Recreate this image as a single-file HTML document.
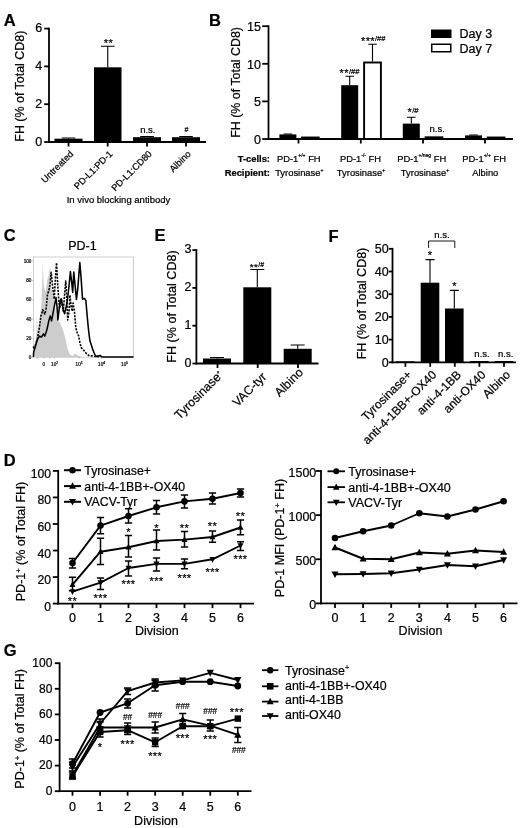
<!DOCTYPE html>
<html><head><meta charset="utf-8"><title>Figure</title>
<style>
html,body{margin:0;padding:0;background:#fff;}
body{width:520px;height:828px;overflow:hidden;}
svg{display:block;font-family:'Liberation Sans', sans-serif;filter:blur(0.35px);}
svg text{stroke:#000;stroke-width:0.22px;}
</style></head>
<body>
<svg width="520" height="828" viewBox="0 0 520 828" font-family="'Liberation Sans', sans-serif">
<rect width="520" height="828" fill="#fff"/>
<text x="3.8" y="26.3" font-size="16.5" font-weight="bold">A</text>
<line x1="49" y1="27.70000000000001" x2="49" y2="142.9" stroke="#000" stroke-width="1.8"/>
<line x1="44.2" y1="142.0" x2="49" y2="142.0" stroke="#000" stroke-width="1.8"/>
<text x="42.2" y="145.6" font-size="12.5" text-anchor="end">0</text>
<line x1="44.2" y1="104.2" x2="49" y2="104.2" stroke="#000" stroke-width="1.8"/>
<text x="42.2" y="107.8" font-size="12.5" text-anchor="end">2</text>
<line x1="44.2" y1="66.4" x2="49" y2="66.4" stroke="#000" stroke-width="1.8"/>
<text x="42.2" y="70.0" font-size="12.5" text-anchor="end">4</text>
<line x1="44.2" y1="28.60000000000001" x2="49" y2="28.60000000000001" stroke="#000" stroke-width="1.8"/>
<text x="42.2" y="32.2" font-size="12.5" text-anchor="end">6</text>
<line x1="48.1" y1="142" x2="206" y2="142" stroke="#000" stroke-width="1.8"/>
<line x1="68.5" y1="142" x2="68.5" y2="146.5" stroke="#000" stroke-width="1.8"/>
<line x1="107.7" y1="142" x2="107.7" y2="146.5" stroke="#000" stroke-width="1.8"/>
<line x1="147" y1="142" x2="147" y2="146.5" stroke="#000" stroke-width="1.8"/>
<line x1="186" y1="142" x2="186" y2="146.5" stroke="#000" stroke-width="1.8"/>
<text x="24.4" y="86.2" font-size="12.45" text-anchor="middle" transform="rotate(-90 24.4 86.2)">FH (% of Total CD8)</text>
<rect x="54.5" y="138.7" width="28.0" height="3.3000000000000114" fill="#000"/>
<path d="M68.5 138.7V138.0M61.7 138.0H75.3" fill="none" stroke="#000" stroke-width="1.1"/>
<rect x="94" y="67.3" width="27.5" height="74.7" fill="#000"/>
<path d="M107.75 67.3V46.3M100.95 46.3H114.55" fill="none" stroke="#000" stroke-width="1.1"/>
<rect x="133" y="137.2" width="28" height="4.800000000000011" fill="#000"/>
<path d="M147.0 137.2V136.55M140.2 136.55H153.8" fill="none" stroke="#000" stroke-width="1.1"/>
<rect x="172" y="137.2" width="28" height="4.800000000000011" fill="#000"/>
<path d="M186.0 137.2V136.55M179.2 136.55H192.8" fill="none" stroke="#000" stroke-width="1.1"/>
<text x="108.4" y="46.8" font-size="11" text-anchor="middle" letter-spacing="0.4">**</text>
<text x="147.8" y="132.5" font-size="9.5" text-anchor="middle">n.s.</text>
<text x="186.5" y="132" font-size="7" text-anchor="middle">#</text>
<text x="74.0" y="154.5" font-size="9.3" text-anchor="end" transform="rotate(-45 74.0 154.5)">Untreated</text>
<text x="113.2" y="154.5" font-size="9.3" text-anchor="end" transform="rotate(-45 113.2 154.5)">PD-L1:PD-1</text>
<text x="152.5" y="154.5" font-size="9.3" text-anchor="end" transform="rotate(-45 152.5 154.5)">PD-L1:CD80</text>
<text x="191.5" y="154.5" font-size="9.3" text-anchor="end" transform="rotate(-45 191.5 154.5)">Albino</text>
<text x="118.5" y="202.7" font-size="9.5" text-anchor="middle">In vivo blocking antibody</text>
<text x="209" y="26.3" font-size="16.5" font-weight="bold">B</text>
<line x1="268.5" y1="25.300000000000004" x2="268.5" y2="139.9" stroke="#000" stroke-width="1.8"/>
<line x1="262.2" y1="139.0" x2="268.5" y2="139.0" stroke="#000" stroke-width="1.8"/>
<text x="261.0" y="144.0" font-size="12.5" text-anchor="end">0</text>
<line x1="262.2" y1="101.4" x2="268.5" y2="101.4" stroke="#000" stroke-width="1.8"/>
<text x="261.0" y="106.4" font-size="12.5" text-anchor="end">5</text>
<line x1="262.2" y1="63.80000000000001" x2="268.5" y2="63.80000000000001" stroke="#000" stroke-width="1.8"/>
<text x="261.0" y="68.8" font-size="12.5" text-anchor="end">10</text>
<line x1="262.2" y1="26.200000000000003" x2="268.5" y2="26.200000000000003" stroke="#000" stroke-width="1.8"/>
<text x="261.0" y="31.2" font-size="12.5" text-anchor="end">15</text>
<line x1="267.6" y1="139" x2="513" y2="139" stroke="#000" stroke-width="1.8"/>
<line x1="298.5" y1="139" x2="298.5" y2="143.5" stroke="#000" stroke-width="1.8"/>
<line x1="360.8" y1="139" x2="360.8" y2="143.5" stroke="#000" stroke-width="1.8"/>
<line x1="423" y1="139" x2="423" y2="143.5" stroke="#000" stroke-width="1.8"/>
<line x1="485" y1="139" x2="485" y2="143.5" stroke="#000" stroke-width="1.8"/>
<text x="240.4" y="82.4" font-size="12.4" text-anchor="middle" transform="rotate(-90 240.4 82.4)">FH (% of Total CD8)</text>
<rect x="279.4" y="134.4" width="17" height="4.599999999999994" fill="#000"/>
<path d="M287.9 134.4V134.0M283.59999999999997 134.0H292.2" fill="none" stroke="#000" stroke-width="1.1"/>
<rect x="301.90000000000003" y="137.5" width="16.8" height="1.5000000000000058" fill="#fff" stroke="#000" stroke-width="1.9"/>
<rect x="341.2" y="85.2" width="17" height="53.8" fill="#000"/>
<path d="M349.7 85.2V76.3M345.4 76.3H354.0" fill="none" stroke="#000" stroke-width="1.1"/>
<rect x="364.1" y="62.5" width="16.8" height="76.5" fill="#fff" stroke="#000" stroke-width="1.9"/>
<path d="M372.5 61.6V44.3M368.2 44.3H376.8" fill="none" stroke="#000" stroke-width="1.1"/>
<rect x="402.8" y="123.6" width="17" height="15.400000000000006" fill="#000"/>
<path d="M411.3 123.6V117.2M407.0 117.2H415.6" fill="none" stroke="#000" stroke-width="1.1"/>
<rect x="425.6" y="137.3" width="16.8" height="1.6999999999999944" fill="#fff" stroke="#000" stroke-width="1.9"/>
<rect x="465.0" y="135.4" width="17" height="3.5999999999999943" fill="#000"/>
<path d="M473.5 135.4V135.0M469.2 135.0H477.8" fill="none" stroke="#000" stroke-width="1.1"/>
<rect x="487.6" y="137.5" width="16.8" height="1.5000000000000058" fill="#fff" stroke="#000" stroke-width="1.9"/>
<text x="349.5" y="77.5" font-size="12" text-anchor="middle"><tspan font-size="11.0" letter-spacing="0.4" dy="-0.5">**</tspan><tspan font-size="7.5" dy="-3.1">/##</tspan></text>
<text x="373.2" y="45" font-size="12" text-anchor="middle"><tspan font-size="11.0" letter-spacing="0.4" dy="-0.5">***</tspan><tspan font-size="7.5" dy="-3.1">/##</tspan></text>
<text x="413" y="116.6" font-size="12" text-anchor="middle"><tspan font-size="11.0" letter-spacing="0.4" dy="-0.5">*</tspan><tspan font-size="7.5" dy="-3.1">/#</tspan></text>
<text x="437.2" y="131.8" font-size="9.5" text-anchor="middle">n.s.</text>
<rect x="431" y="29.5" width="20.5" height="8.5" fill="#000"/>
<rect x="431.75" y="44.25" width="19" height="7.5" fill="#fff" stroke="#000" stroke-width="1.5"/>
<text x="459.5" y="38" font-size="12.5">Day 3</text>
<text x="459.5" y="52.5" font-size="12.5">Day 7</text>
<text x="270" y="161.7" font-size="9.4" text-anchor="end" font-weight="bold">T-cells:</text>
<text x="270" y="176.2" font-size="9.4" text-anchor="end" font-weight="bold">Recipient:</text>
<text x="298.8" y="161.7" font-size="9.4" text-anchor="middle">PD-1<tspan font-size="5" dy="-4.3">+/+</tspan><tspan dy="4.3"> FH</tspan></text>
<text x="299.3" y="176.2" font-size="9.4" text-anchor="middle">Tyrosinase<tspan font-size="5" dy="-4.3">+</tspan></text>
<text x="360.5" y="161.7" font-size="9.4" text-anchor="middle">PD-1<tspan font-size="5" dy="-4.3">-/-</tspan><tspan dy="4.3"> FH</tspan></text>
<text x="361" y="176.2" font-size="9.4" text-anchor="middle">Tyrosinase<tspan font-size="5" dy="-4.3">+</tspan></text>
<text x="421.7" y="161.7" font-size="9.4" text-anchor="middle">PD-1<tspan font-size="5" dy="-4.3">+/neg</tspan><tspan dy="4.3"> FH</tspan></text>
<text x="425" y="176.2" font-size="9.4" text-anchor="middle">Tyrosinase<tspan font-size="5" dy="-4.3">+</tspan></text>
<text x="484.2" y="161.7" font-size="9.4" text-anchor="middle">PD-1<tspan font-size="5" dy="-4.3">+/+</tspan><tspan dy="4.3"> FH</tspan></text>
<text x="485.3" y="176.2" font-size="9.4" text-anchor="middle">Albino</text>
<text x="154.6" y="241" font-size="16.5" font-weight="bold">E</text>
<line x1="196.4" y1="249.20000000000002" x2="196.4" y2="364.4" stroke="#000" stroke-width="1.8"/>
<line x1="192.4" y1="363.5" x2="196.4" y2="363.5" stroke="#000" stroke-width="1.8"/>
<text x="191.4" y="366.7" font-size="12.5" text-anchor="end">0</text>
<line x1="192.4" y1="325.7" x2="196.4" y2="325.7" stroke="#000" stroke-width="1.8"/>
<text x="191.4" y="328.9" font-size="12.5" text-anchor="end">1</text>
<line x1="192.4" y1="287.9" x2="196.4" y2="287.9" stroke="#000" stroke-width="1.8"/>
<text x="191.4" y="291.1" font-size="12.5" text-anchor="end">2</text>
<line x1="192.4" y1="250.10000000000002" x2="196.4" y2="250.10000000000002" stroke="#000" stroke-width="1.8"/>
<text x="191.4" y="253.3" font-size="12.5" text-anchor="end">3</text>
<line x1="195.5" y1="363.5" x2="318.5" y2="363.5" stroke="#000" stroke-width="1.8"/>
<line x1="217.5" y1="363.5" x2="217.5" y2="368.0" stroke="#000" stroke-width="1.8"/>
<line x1="257.7" y1="363.5" x2="257.7" y2="368.0" stroke="#000" stroke-width="1.8"/>
<line x1="298" y1="363.5" x2="298" y2="368.0" stroke="#000" stroke-width="1.8"/>
<text x="176.2" y="306.5" font-size="12.6" text-anchor="middle" transform="rotate(-90 176.2 306.5)">FH (% of Total CD8)</text>
<rect x="203" y="358.5" width="28" height="5.0" fill="#000"/>
<path d="M217 358.5V357.5M210 357.5H224" fill="none" stroke="#000" stroke-width="1.1"/>
<rect x="243.3" y="287.3" width="28" height="76.19999999999999" fill="#000"/>
<path d="M257.3 287.3V269.5M250.3 269.5H264.3" fill="none" stroke="#000" stroke-width="1.1"/>
<rect x="283.7" y="348.8" width="28" height="14.699999999999989" fill="#000"/>
<path d="M297.7 348.8V345M290.7 345H304.7" fill="none" stroke="#000" stroke-width="1.1"/>
<text x="257" y="270" font-size="12" text-anchor="middle"><tspan font-size="9.9" letter-spacing="0.4" dy="-0.5">**</tspan><tspan font-size="7" dy="-2.6">/#</tspan></text>
<text x="223.8" y="375.6" font-size="12.3" text-anchor="end" transform="rotate(-45 223.8 375.6)">Tyrosinase<tspan font-size="5.5" dy="-4.6">+</tspan></text>
<text x="267.2" y="377.5" font-size="12.3" text-anchor="end" transform="rotate(-45 267.2 377.5)">VAC-tyr</text>
<text x="303.8" y="373.2" font-size="12.3" text-anchor="end" transform="rotate(-45 303.8 373.2)">Albino</text>
<text x="328.5" y="242" font-size="16.5" font-weight="bold">F</text>
<line x1="392.5" y1="247.9" x2="392.5" y2="363.2" stroke="#000" stroke-width="1.8"/>
<line x1="388.9" y1="362.3" x2="392.5" y2="362.3" stroke="#000" stroke-width="1.8"/>
<text x="388.7" y="366.7" font-size="12.5" text-anchor="end">0</text>
<line x1="388.9" y1="339.6" x2="392.5" y2="339.6" stroke="#000" stroke-width="1.8"/>
<text x="388.7" y="344.0" font-size="12.5" text-anchor="end">10</text>
<line x1="388.9" y1="316.90000000000003" x2="392.5" y2="316.90000000000003" stroke="#000" stroke-width="1.8"/>
<text x="388.7" y="321.3" font-size="12.5" text-anchor="end">20</text>
<line x1="388.9" y1="294.20000000000005" x2="392.5" y2="294.20000000000005" stroke="#000" stroke-width="1.8"/>
<text x="388.7" y="298.6" font-size="12.5" text-anchor="end">30</text>
<line x1="388.9" y1="271.5" x2="392.5" y2="271.5" stroke="#000" stroke-width="1.8"/>
<text x="388.7" y="275.9" font-size="12.5" text-anchor="end">40</text>
<line x1="388.9" y1="248.8" x2="392.5" y2="248.8" stroke="#000" stroke-width="1.8"/>
<text x="388.7" y="253.2" font-size="12.5" text-anchor="end">50</text>
<line x1="391.6" y1="362.3" x2="516" y2="362.3" stroke="#000" stroke-width="1.8"/>
<line x1="405.4" y1="362.3" x2="405.4" y2="366.8" stroke="#000" stroke-width="1.8"/>
<line x1="430.2" y1="362.3" x2="430.2" y2="366.8" stroke="#000" stroke-width="1.8"/>
<line x1="454.8" y1="362.3" x2="454.8" y2="366.8" stroke="#000" stroke-width="1.8"/>
<line x1="479.4" y1="362.3" x2="479.4" y2="366.8" stroke="#000" stroke-width="1.8"/>
<line x1="504" y1="362.3" x2="504" y2="366.8" stroke="#000" stroke-width="1.8"/>
<text x="365.6" y="303.5" font-size="12.5" text-anchor="middle" transform="rotate(-90 365.6 303.5)">FH (% of Total CD8)</text>
<rect x="420.7" y="282.7" width="18.6" height="79.60000000000002" fill="#000"/>
<path d="M430 282.7V259.6M425.5 259.6H434.5" fill="none" stroke="#000" stroke-width="1.1"/>
<rect x="445.0" y="308.5" width="18.6" height="53.80000000000001" fill="#000"/>
<path d="M454.3 308.5V290.4M449.8 290.4H458.8" fill="none" stroke="#000" stroke-width="1.1"/>
<rect x="470" y="361" width="18.6" height="1.3" fill="#000"/>
<rect x="494.5" y="361" width="18.6" height="1.3" fill="#000"/>
<rect x="396" y="361.3" width="18.6" height="1" fill="#000"/>
<text x="430" y="259" font-size="11" text-anchor="middle">*</text>
<text x="454.5" y="290" font-size="11" text-anchor="middle">*</text>
<path d="M428.6 248V241H454.8V248" fill="none" stroke="#000" stroke-width="0.9"/>
<text x="442" y="238" font-size="9.5" text-anchor="middle">n.s.</text>
<text x="482" y="357" font-size="9.5" text-anchor="middle">n.s.</text>
<text x="505.7" y="357" font-size="9.5" text-anchor="middle">n.s.</text>
<text x="412.4" y="375.5" font-size="12" text-anchor="end" transform="rotate(-45 412.4 375.5)">Tyrosinase+</text>
<text x="437.2" y="375.5" font-size="12" text-anchor="end" transform="rotate(-45 437.2 375.5)">anti-4-1BB+-OX40</text>
<text x="461.8" y="375.5" font-size="12" text-anchor="end" transform="rotate(-45 461.8 375.5)">anti-4-1BB</text>
<text x="486.4" y="375.5" font-size="12" text-anchor="end" transform="rotate(-45 486.4 375.5)">anti-OX40</text>
<text x="511" y="375.5" font-size="12" text-anchor="end" transform="rotate(-45 511 375.5)">Albino</text>
<text x="3.8" y="241.3" font-size="16.5" font-weight="bold">C</text>
<text x="82.5" y="250.4" font-size="12.5" text-anchor="middle">PD-1</text>
<path d="M33.38 356.98L34.06 351.6L35.4 346.21L36.34 340.83L36.88 311.22L37.56 332.75L39.44 321.99L41.46 303.14L42.8 264.11L43.75 285.65L45.5 292.38L47.52 278.92L48.86 274.88L50.07 264.79L51.01 285.65L52.9 296.41L54.92 305.84L56.94 319.29L60.3 323.33L62.99 330.06L65.69 339.48L67.7 348.9L69.72 354.29L72.41 355.9L75.11 353.62L77.13 355.36L79.82 355.9L81.84 356.98Z" fill="#cdcdcd" stroke="none" stroke-width="0"/>
<rect x="33.4" y="257" width="100.19999999999999" height="100.19999999999999" fill="none" stroke="#c4c4c4" stroke-width="0.8"/>
<path d="M33.38 346.21L34.06 349.17L35.4 344.87L37.42 338.14L39.44 327.37L40.79 316.6L42.8 309.87L44.82 314.18L46.17 308.53L47.52 293.72L48.86 291.03L50.21 282.96L51.15 272.19L52.23 282.96L53.3 292.38L54.24 299.11L55.32 278.92L56.53 262.77L57.61 282.96L58.69 299.11L59.63 308.53L60.97 299.11L62.32 305.84L63.26 311.22L64.34 297.76L65.69 280.94L66.49 292.38L67.7 319.97L69.05 311.22L69.99 295.07L71.07 305.84L72.15 311.22L73.09 303.14L74.43 311.22L75.78 327.37L77.13 332.75L78.47 335.45L79.82 342.17L81.16 347.56L83.18 349.58L85.87 352.94L88.57 355.36L91.93 355.9L95.29 356.44L97.99 355.9L100.01 356.71" fill="none" stroke="#000" stroke-width="1.6" stroke-linejoin="round" stroke-dasharray="2.1 1.2"/>
<path d="M33.38 356.98L33.65 352.27L35.4 346.21L37.42 339.48L39.44 336.12L41.46 337.06L43.48 333.83L44.82 336.12L46.84 330.06L48.86 320.64L50.21 315.93L51.55 320.91L52.9 313.91L54.92 303.14L55.99 297.49L56.94 305.84L57.88 319.97L59.22 308.53L60.3 300.45L61.38 298.84L62.32 304.49L63.26 309.87L64.61 313.64L66.36 305.84L67.7 297.76L69.05 285.65L70.4 271.52L71.74 282.96L72.68 292.38L73.76 271.92L75.11 285.65L76.45 299.38L77.8 288.34L79.82 262.5L81.16 278.92L82.51 299.11L84.53 298.43L85.87 300.72L87.22 316.6L88.57 330.06L89.91 340.83L91.26 344.87L92.6 348.9L94.62 354.29L96.64 356.44L98.26 356.71L100.01 355.36L101.76 356.85L133.6 357" fill="none" stroke="#000" stroke-width="1.55" stroke-linejoin="round"/>
<text x="31.3" y="262.6" font-size="4.6" text-anchor="end" fill="#111">100</text>
<line x1="32.199999999999996" y1="261" x2="33.4" y2="261" stroke="#888" stroke-width="0.5"/>
<text x="31.3" y="282.20000000000005" font-size="4.6" text-anchor="end" fill="#111">80</text>
<line x1="32.199999999999996" y1="280.6" x2="33.4" y2="280.6" stroke="#888" stroke-width="0.5"/>
<text x="31.3" y="301.40000000000003" font-size="4.6" text-anchor="end" fill="#111">60</text>
<line x1="32.199999999999996" y1="299.8" x2="33.4" y2="299.8" stroke="#888" stroke-width="0.5"/>
<text x="31.3" y="320.6" font-size="4.6" text-anchor="end" fill="#111">40</text>
<line x1="32.199999999999996" y1="319" x2="33.4" y2="319" stroke="#888" stroke-width="0.5"/>
<text x="31.3" y="339.8" font-size="4.6" text-anchor="end" fill="#111">20</text>
<line x1="32.199999999999996" y1="338.2" x2="33.4" y2="338.2" stroke="#888" stroke-width="0.5"/>
<text x="31.3" y="358.90000000000003" font-size="4.6" text-anchor="end" fill="#111">0</text>
<line x1="32.199999999999996" y1="357.3" x2="33.4" y2="357.3" stroke="#888" stroke-width="0.5"/>
<text x="43.8" y="366" font-size="4.6" text-anchor="middle" fill="#333">0</text>
<text x="54.5" y="366" font-size="4.6" text-anchor="middle" fill="#333">10<tspan font-size="3" dy="-1.6">2</tspan></text>
<text x="79" y="366" font-size="4.6" text-anchor="middle" fill="#333">10<tspan font-size="3" dy="-1.6">3</tspan></text>
<text x="101.5" y="366" font-size="4.6" text-anchor="middle" fill="#333">10<tspan font-size="3" dy="-1.6">4</tspan></text>
<text x="124.5" y="366" font-size="4.6" text-anchor="middle" fill="#333">10<tspan font-size="3" dy="-1.6">5</tspan></text>
<line x1="37" y1="357.2" x2="37" y2="358.7" stroke="#888" stroke-width="0.5"/>
<line x1="43.8" y1="357.2" x2="43.8" y2="358.7" stroke="#888" stroke-width="0.5"/>
<line x1="50" y1="357.2" x2="50" y2="358.7" stroke="#888" stroke-width="0.5"/>
<line x1="54.5" y1="357.2" x2="54.5" y2="358.7" stroke="#888" stroke-width="0.5"/>
<line x1="79" y1="357.2" x2="79" y2="358.7" stroke="#888" stroke-width="0.5"/>
<line x1="101.5" y1="357.2" x2="101.5" y2="358.7" stroke="#888" stroke-width="0.5"/>
<line x1="124.5" y1="357.2" x2="124.5" y2="358.7" stroke="#888" stroke-width="0.5"/>
<text x="3.8" y="465.5" font-size="16.5" font-weight="bold">D</text>
<line x1="58.2" y1="470.00000000000006" x2="58.2" y2="604.5" stroke="#000" stroke-width="1.8"/>
<line x1="52.800000000000004" y1="603.6" x2="58.2" y2="603.6" stroke="#000" stroke-width="1.8"/>
<text x="51.0" y="610.59" font-size="12.2" text-anchor="end">0</text>
<line x1="52.800000000000004" y1="577.0600000000001" x2="58.2" y2="577.0600000000001" stroke="#000" stroke-width="1.8"/>
<text x="51.0" y="584.05" font-size="12.2" text-anchor="end">20</text>
<line x1="52.800000000000004" y1="550.52" x2="58.2" y2="550.52" stroke="#000" stroke-width="1.8"/>
<text x="51.0" y="557.51" font-size="12.2" text-anchor="end">40</text>
<line x1="52.800000000000004" y1="523.98" x2="58.2" y2="523.98" stroke="#000" stroke-width="1.8"/>
<text x="51.0" y="530.97" font-size="12.2" text-anchor="end">60</text>
<line x1="52.800000000000004" y1="497.44000000000005" x2="58.2" y2="497.44000000000005" stroke="#000" stroke-width="1.8"/>
<text x="51.0" y="504.43" font-size="12.2" text-anchor="end">80</text>
<line x1="52.800000000000004" y1="470.90000000000003" x2="58.2" y2="470.90000000000003" stroke="#000" stroke-width="1.8"/>
<text x="51.0" y="477.89" font-size="12.2" text-anchor="end">100</text>
<line x1="57.300000000000004" y1="603.6" x2="254" y2="603.6" stroke="#000" stroke-width="1.8"/>
<line x1="72.5" y1="603.6" x2="72.5" y2="608.1" stroke="#000" stroke-width="1.8"/>
<line x1="100.5" y1="603.6" x2="100.5" y2="608.1" stroke="#000" stroke-width="1.8"/>
<line x1="128.5" y1="603.6" x2="128.5" y2="608.1" stroke="#000" stroke-width="1.8"/>
<line x1="156.5" y1="603.6" x2="156.5" y2="608.1" stroke="#000" stroke-width="1.8"/>
<line x1="184.5" y1="603.6" x2="184.5" y2="608.1" stroke="#000" stroke-width="1.8"/>
<line x1="212.5" y1="603.6" x2="212.5" y2="608.1" stroke="#000" stroke-width="1.8"/>
<line x1="240.5" y1="603.6" x2="240.5" y2="608.1" stroke="#000" stroke-width="1.8"/>
<text x="72.5" y="622.3" font-size="12.5" text-anchor="middle">0</text>
<text x="100.5" y="622.3" font-size="12.5" text-anchor="middle">1</text>
<text x="128.5" y="622.3" font-size="12.5" text-anchor="middle">2</text>
<text x="156.5" y="622.3" font-size="12.5" text-anchor="middle">3</text>
<text x="184.5" y="622.3" font-size="12.5" text-anchor="middle">4</text>
<text x="212.5" y="622.3" font-size="12.5" text-anchor="middle">5</text>
<text x="240.5" y="622.3" font-size="12.5" text-anchor="middle">6</text>
<text x="156.8" y="635.3" font-size="12.5" text-anchor="middle">Division</text>
<text x="25.4" y="541.5" font-size="12.5" text-anchor="middle" transform="rotate(-90 25.4 541.5)">PD-1<tspan font-size="7.5" dy="-4.5">+</tspan><tspan dy="4.5"> (% of Total FH)</tspan></text>
<path d="M72.5 563L100.5 525.6L128.5 516L156.5 507.3L184.5 501.4L212.5 498.7L240.5 493" fill="none" stroke="#000" stroke-width="1.9" stroke-linejoin="round"/>
<path d="M72.5 558.5V568M68.9 558.5H76.1M68.9 568H76.1" fill="none" stroke="#000" stroke-width="1.5"/>
<path d="M100.5 517.5V533.7M96.9 517.5H104.1M96.9 533.7H104.1" fill="none" stroke="#000" stroke-width="1.5"/>
<path d="M128.5 508.7V523M124.9 508.7H132.1M124.9 523H132.1" fill="none" stroke="#000" stroke-width="1.5"/>
<path d="M156.5 500.6V514M152.9 500.6H160.1M152.9 514H160.1" fill="none" stroke="#000" stroke-width="1.5"/>
<path d="M184.5 495V508M180.9 495H188.1M180.9 508H188.1" fill="none" stroke="#000" stroke-width="1.5"/>
<path d="M212.5 493V504M208.9 493H216.1M208.9 504H216.1" fill="none" stroke="#000" stroke-width="1.5"/>
<path d="M240.5 489V497M236.9 489H244.1M236.9 497H244.1" fill="none" stroke="#000" stroke-width="1.5"/>
<circle cx="72.5" cy="563" r="3.3"/>
<circle cx="100.5" cy="525.6" r="3.3"/>
<circle cx="128.5" cy="516" r="3.3"/>
<circle cx="156.5" cy="507.3" r="3.3"/>
<circle cx="184.5" cy="501.4" r="3.3"/>
<circle cx="212.5" cy="498.7" r="3.3"/>
<circle cx="240.5" cy="493" r="3.3"/>
<path d="M72.5 584.6L100.5 551.7L128.5 547.2L156.5 541L184.5 539.6L212.5 537L240.5 527.5" fill="none" stroke="#000" stroke-width="1.9" stroke-linejoin="round"/>
<path d="M72.5 577.3V590.8M68.9 577.3H76.1M68.9 590.8H76.1" fill="none" stroke="#000" stroke-width="1.5"/>
<path d="M100.5 538.3V564.4M96.9 538.3H104.1M96.9 564.4H104.1" fill="none" stroke="#000" stroke-width="1.5"/>
<path d="M128.5 535.6V557M124.9 535.6H132.1M124.9 557H132.1" fill="none" stroke="#000" stroke-width="1.5"/>
<path d="M156.5 530V550M152.9 530H160.1M152.9 550H160.1" fill="none" stroke="#000" stroke-width="1.5"/>
<path d="M184.5 531.5V547M180.9 531.5H188.1M180.9 547H188.1" fill="none" stroke="#000" stroke-width="1.5"/>
<path d="M212.5 531V542.3M208.9 531H216.1M208.9 542.3H216.1" fill="none" stroke="#000" stroke-width="1.5"/>
<path d="M240.5 520V534.8M236.9 520H244.1M236.9 534.8H244.1" fill="none" stroke="#000" stroke-width="1.5"/>
<path d="M72.5 581.26L75.54 586.94H69.46Z"/>
<path d="M100.5 548.36L103.54 554.04H97.46Z"/>
<path d="M128.5 543.86L131.54 549.54H125.46Z"/>
<path d="M156.5 537.66L159.54 543.34H153.46Z"/>
<path d="M184.5 536.26L187.54 541.94H181.46Z"/>
<path d="M212.5 533.66L215.54 539.34H209.46Z"/>
<path d="M240.5 524.16L243.54 529.84H237.46Z"/>
<path d="M72.5 591.6L100.5 582.7L128.5 568L156.5 563.9L184.5 563.9L212.5 559.3L240.5 545.5" fill="none" stroke="#000" stroke-width="1.9" stroke-linejoin="round"/>
<path d="M100.5 577.9V589.4M96.9 577.9H104.1M96.9 589.4H104.1" fill="none" stroke="#000" stroke-width="1.5"/>
<path d="M128.5 561V576M124.9 561H132.1M124.9 576H132.1" fill="none" stroke="#000" stroke-width="1.5"/>
<path d="M156.5 558V571M152.9 558H160.1M152.9 571H160.1" fill="none" stroke="#000" stroke-width="1.5"/>
<path d="M184.5 559V568.7M180.9 559H188.1M180.9 568.7H188.1" fill="none" stroke="#000" stroke-width="1.5"/>
<path d="M240.5 541.8V550.4M236.9 541.8H244.1M236.9 550.4H244.1" fill="none" stroke="#000" stroke-width="1.5"/>
<path d="M72.5 594.94L75.54 589.26H69.46Z"/>
<path d="M100.5 586.04L103.54 580.36H97.46Z"/>
<path d="M128.5 571.34L131.54 565.66H125.46Z"/>
<path d="M156.5 567.24L159.54 561.56H153.46Z"/>
<path d="M184.5 567.24L187.54 561.56H181.46Z"/>
<path d="M212.5 562.64L215.54 556.96H209.46Z"/>
<path d="M240.5 548.84L243.54 543.16H237.46Z"/>
<text x="72.5" y="604.6" font-size="11" text-anchor="middle" letter-spacing="0.4">**</text>
<text x="100.5" y="601.6" font-size="11" text-anchor="middle" letter-spacing="0.4">***</text>
<text x="128.5" y="588.1" font-size="11" text-anchor="middle" letter-spacing="0.4">***</text>
<text x="156.5" y="584.6" font-size="11" text-anchor="middle" letter-spacing="0.4">***</text>
<text x="184.5" y="581.6" font-size="11" text-anchor="middle" letter-spacing="0.4">***</text>
<text x="212.5" y="575.6" font-size="11" text-anchor="middle" letter-spacing="0.4">***</text>
<text x="240.5" y="563.1" font-size="11" text-anchor="middle" letter-spacing="0.4">***</text>
<text x="128.5" y="536.1" font-size="11" text-anchor="middle" letter-spacing="0.4">*</text>
<text x="156.5" y="531.6" font-size="11" text-anchor="middle" letter-spacing="0.4">*</text>
<text x="184.5" y="531.6" font-size="11" text-anchor="middle" letter-spacing="0.4">**</text>
<text x="212.5" y="530.1" font-size="11" text-anchor="middle" letter-spacing="0.4">**</text>
<text x="240.5" y="520.1" font-size="11" text-anchor="middle" letter-spacing="0.4">**</text>
<line x1="64" y1="470.2" x2="81" y2="470.2" stroke="#000" stroke-width="2.0"/>
<circle cx="72.5" cy="470.2" r="3.2"/>
<text x="84.3" y="474.63" font-size="12.3">Tyrosinase+</text>
<line x1="64" y1="486.1" x2="81" y2="486.1" stroke="#000" stroke-width="2.0"/>
<path d="M72.5 482.33L75.97 488.87H69.03Z"/>
<text x="84.3" y="490.53" font-size="12.3">anti-4-1BB+-OX40</text>
<line x1="64" y1="501.8" x2="81" y2="501.8" stroke="#000" stroke-width="2.0"/>
<path d="M72.5 505.57L75.97 499.03H69.03Z"/>
<text x="84.3" y="506.23" font-size="12.3">VACV-Tyr</text>
<line x1="321" y1="470.095" x2="321" y2="604.3" stroke="#000" stroke-width="1.8"/>
<line x1="315.6" y1="603.4" x2="321" y2="603.4" stroke="#000" stroke-width="1.8"/>
<text x="316.2" y="609.36" font-size="12.4" text-anchor="end">0</text>
<line x1="315.6" y1="559.265" x2="321" y2="559.265" stroke="#000" stroke-width="1.8"/>
<text x="316.2" y="565.23" font-size="12.4" text-anchor="end">500</text>
<line x1="315.6" y1="515.13" x2="321" y2="515.13" stroke="#000" stroke-width="1.8"/>
<text x="316.2" y="521.09" font-size="12.4" text-anchor="end">1000</text>
<line x1="315.6" y1="470.995" x2="321" y2="470.995" stroke="#000" stroke-width="1.8"/>
<text x="316.2" y="476.96" font-size="12.4" text-anchor="end">1500</text>
<line x1="320.1" y1="603.4" x2="517.5" y2="603.4" stroke="#000" stroke-width="1.8"/>
<line x1="335.0" y1="603.4" x2="335.0" y2="607.9" stroke="#000" stroke-width="1.8"/>
<line x1="363.1" y1="603.4" x2="363.1" y2="607.9" stroke="#000" stroke-width="1.8"/>
<line x1="391.2" y1="603.4" x2="391.2" y2="607.9" stroke="#000" stroke-width="1.8"/>
<line x1="419.3" y1="603.4" x2="419.3" y2="607.9" stroke="#000" stroke-width="1.8"/>
<line x1="447.4" y1="603.4" x2="447.4" y2="607.9" stroke="#000" stroke-width="1.8"/>
<line x1="475.5" y1="603.4" x2="475.5" y2="607.9" stroke="#000" stroke-width="1.8"/>
<line x1="503.6" y1="603.4" x2="503.6" y2="607.9" stroke="#000" stroke-width="1.8"/>
<text x="335.0" y="622.3" font-size="12.5" text-anchor="middle">0</text>
<text x="363.1" y="622.3" font-size="12.5" text-anchor="middle">1</text>
<text x="391.2" y="622.3" font-size="12.5" text-anchor="middle">2</text>
<text x="419.3" y="622.3" font-size="12.5" text-anchor="middle">3</text>
<text x="447.4" y="622.3" font-size="12.5" text-anchor="middle">4</text>
<text x="475.5" y="622.3" font-size="12.5" text-anchor="middle">5</text>
<text x="503.6" y="622.3" font-size="12.5" text-anchor="middle">6</text>
<text x="420.5" y="635.3" font-size="12.5" text-anchor="middle">Division</text>
<text x="284.3" y="538" font-size="12.5" text-anchor="middle" transform="rotate(-90 284.3 538)">PD-1 MFI (PD-1<tspan font-size="7.5" dy="-4.5">+</tspan><tspan dy="4.5"> FH)</tspan></text>
<path d="M335.0 538L363.1 531.25L391.2 525.5L419.3 513.25L447.4 516.5L475.5 509.5L503.6 501.25" fill="none" stroke="#000" stroke-width="1.9" stroke-linejoin="round"/>
<circle cx="335.0" cy="538" r="3.3"/>
<circle cx="363.1" cy="531.25" r="3.3"/>
<circle cx="391.2" cy="525.5" r="3.3"/>
<circle cx="419.3" cy="513.25" r="3.3"/>
<circle cx="447.4" cy="516.5" r="3.3"/>
<circle cx="475.5" cy="509.5" r="3.3"/>
<circle cx="503.6" cy="501.25" r="3.3"/>
<path d="M335.0 547.5L363.1 558.75L391.2 559.25L419.3 552.5L447.4 553.75L475.5 550.5L503.6 552" fill="none" stroke="#000" stroke-width="1.9" stroke-linejoin="round"/>
<path d="M335.0 543.73L338.47 550.27H331.53Z"/>
<path d="M363.1 554.98L366.57 561.52H359.63Z"/>
<path d="M391.2 555.48L394.67 562.02H387.73Z"/>
<path d="M419.3 548.73L422.77 555.27H415.83Z"/>
<path d="M447.4 549.98L450.87 556.52H443.93Z"/>
<path d="M475.5 546.73L478.97 553.27H472.03Z"/>
<path d="M503.6 548.23L507.07 554.77H500.13Z"/>
<path d="M335.0 574.25L363.1 574L391.2 573.25L419.3 569.5L447.4 565L475.5 566.25L503.6 560" fill="none" stroke="#000" stroke-width="1.9" stroke-linejoin="round"/>
<path d="M335.0 578.02L338.47 571.48H331.53Z"/>
<path d="M363.1 577.77L366.57 571.23H359.63Z"/>
<path d="M391.2 577.02L394.67 570.48H387.73Z"/>
<path d="M419.3 573.27L422.77 566.73H415.83Z"/>
<path d="M447.4 568.77L450.87 562.23H443.93Z"/>
<path d="M475.5 570.02L478.97 563.48H472.03Z"/>
<path d="M503.6 563.77L507.07 557.23H500.13Z"/>
<line x1="327.5" y1="471.3" x2="345" y2="471.3" stroke="#000" stroke-width="1.8"/>
<circle cx="336.25" cy="471.3" r="3.0"/>
<text x="348.3" y="475.8" font-size="12.5">Tyrosinase+</text>
<line x1="327.5" y1="487.1" x2="345" y2="487.1" stroke="#000" stroke-width="1.8"/>
<path d="M336.25 483.5L339.55 489.7H332.95Z"/>
<text x="348.3" y="491.6" font-size="12.5">anti-4-1BB+-OX40</text>
<line x1="327.5" y1="502.3" x2="345" y2="502.3" stroke="#000" stroke-width="1.8"/>
<path d="M336.25 505.9L339.55 499.7H332.95Z"/>
<text x="348.3" y="506.8" font-size="12.5">VACV-Tyr</text>
<text x="3.8" y="656.3" font-size="16.5" font-weight="bold">G</text>
<line x1="59.6" y1="662.3000000000001" x2="59.6" y2="792.1" stroke="#000" stroke-width="1.8"/>
<line x1="54.800000000000004" y1="791.2" x2="59.6" y2="791.2" stroke="#000" stroke-width="1.8"/>
<text x="52.4" y="794.92" font-size="12" text-anchor="end">0</text>
<line x1="54.800000000000004" y1="765.6" x2="59.6" y2="765.6" stroke="#000" stroke-width="1.8"/>
<text x="52.4" y="769.32" font-size="12" text-anchor="end">20</text>
<line x1="54.800000000000004" y1="740.0" x2="59.6" y2="740.0" stroke="#000" stroke-width="1.8"/>
<text x="52.4" y="743.72" font-size="12" text-anchor="end">40</text>
<line x1="54.800000000000004" y1="714.4000000000001" x2="59.6" y2="714.4000000000001" stroke="#000" stroke-width="1.8"/>
<text x="52.4" y="718.12" font-size="12" text-anchor="end">60</text>
<line x1="54.800000000000004" y1="688.8000000000001" x2="59.6" y2="688.8000000000001" stroke="#000" stroke-width="1.8"/>
<text x="52.4" y="692.52" font-size="12" text-anchor="end">80</text>
<line x1="54.800000000000004" y1="663.2" x2="59.6" y2="663.2" stroke="#000" stroke-width="1.8"/>
<text x="52.4" y="666.92" font-size="12" text-anchor="end">100</text>
<line x1="58.7" y1="791.2" x2="251.5" y2="791.2" stroke="#000" stroke-width="1.8"/>
<line x1="72.5" y1="791.2" x2="72.5" y2="795.7" stroke="#000" stroke-width="1.8"/>
<line x1="100.05" y1="791.2" x2="100.05" y2="795.7" stroke="#000" stroke-width="1.8"/>
<line x1="127.6" y1="791.2" x2="127.6" y2="795.7" stroke="#000" stroke-width="1.8"/>
<line x1="155.15" y1="791.2" x2="155.15" y2="795.7" stroke="#000" stroke-width="1.8"/>
<line x1="182.7" y1="791.2" x2="182.7" y2="795.7" stroke="#000" stroke-width="1.8"/>
<line x1="210.25" y1="791.2" x2="210.25" y2="795.7" stroke="#000" stroke-width="1.8"/>
<line x1="237.8" y1="791.2" x2="237.8" y2="795.7" stroke="#000" stroke-width="1.8"/>
<text x="72.5" y="810.5" font-size="12.5" text-anchor="middle">0</text>
<text x="100.05" y="810.5" font-size="12.5" text-anchor="middle">1</text>
<text x="127.6" y="810.5" font-size="12.5" text-anchor="middle">2</text>
<text x="155.15" y="810.5" font-size="12.5" text-anchor="middle">3</text>
<text x="182.7" y="810.5" font-size="12.5" text-anchor="middle">4</text>
<text x="210.25" y="810.5" font-size="12.5" text-anchor="middle">5</text>
<text x="237.8" y="810.5" font-size="12.5" text-anchor="middle">6</text>
<text x="156" y="824.5" font-size="12.5" text-anchor="middle">Division</text>
<text x="24.3" y="728.9" font-size="12.5" text-anchor="middle" transform="rotate(-90 24.3 728.9)">PD-1<tspan font-size="7.5" dy="-4.5">+</tspan><tspan dy="4.5"> (% of Total FH)</tspan></text>
<path d="M72.5 763.75L100.05 712.5L127.6 703.3L155.15 685.2L182.7 681.7L210.25 681.7L237.8 686" fill="none" stroke="#000" stroke-width="1.9" stroke-linejoin="round"/>
<path d="M72.5 759V768M68.9 759H76.1M68.9 768H76.1" fill="none" stroke="#000" stroke-width="1.5"/>
<path d="M127.6 699V708M124.0 699H131.2M124.0 708H131.2" fill="none" stroke="#000" stroke-width="1.5"/>
<path d="M155.15 680.5V691M151.55 680.5H158.75M151.55 691H158.75" fill="none" stroke="#000" stroke-width="1.5"/>
<circle cx="72.5" cy="763.75" r="3.4"/>
<circle cx="100.05" cy="712.5" r="3.4"/>
<circle cx="127.6" cy="703.3" r="3.4"/>
<circle cx="155.15" cy="685.2" r="3.4"/>
<circle cx="182.7" cy="681.7" r="3.4"/>
<circle cx="210.25" cy="681.7" r="3.4"/>
<circle cx="237.8" cy="686" r="3.4"/>
<path d="M72.5 767L100.05 723.75L127.6 691.2L155.15 682.5L182.7 680.4L210.25 672.8L237.8 680" fill="none" stroke="#000" stroke-width="1.9" stroke-linejoin="round"/>
<path d="M72.5 762V772M68.9 762H76.1M68.9 772H76.1" fill="none" stroke="#000" stroke-width="1.5"/>
<path d="M100.05 719V728M96.45 719H103.64999999999999M96.45 728H103.64999999999999" fill="none" stroke="#000" stroke-width="1.5"/>
<path d="M127.6 688V694.5M124.0 688H131.2M124.0 694.5H131.2" fill="none" stroke="#000" stroke-width="1.5"/>
<path d="M155.15 679V686.5M151.55 679H158.75M151.55 686.5H158.75" fill="none" stroke="#000" stroke-width="1.5"/>
<path d="M72.5 770.94L76.14 764.06H68.86Z"/>
<path d="M100.05 727.69L103.69 720.81H96.41Z"/>
<path d="M127.6 695.14L131.24 688.26H123.96Z"/>
<path d="M155.15 686.44L158.79 679.56H151.51Z"/>
<path d="M182.7 684.34L186.34 677.46H179.06Z"/>
<path d="M210.25 676.74L213.89 669.86H206.61Z"/>
<path d="M237.8 683.94L241.44 677.06H234.16Z"/>
<path d="M72.5 776.25L100.05 732L127.6 730.2L155.15 742.3L182.7 726.2L210.25 726.2L237.8 718.6" fill="none" stroke="#000" stroke-width="1.9" stroke-linejoin="round"/>
<path d="M100.05 727V737M96.45 727H103.64999999999999M96.45 737H103.64999999999999" fill="none" stroke="#000" stroke-width="1.5"/>
<path d="M127.6 726V734.5M124.0 726H131.2M124.0 734.5H131.2" fill="none" stroke="#000" stroke-width="1.5"/>
<path d="M155.15 738V746.5M151.55 738H158.75M151.55 746.5H158.75" fill="none" stroke="#000" stroke-width="1.5"/>
<rect x="69.3" y="773.05" width="6.4" height="6.4"/>
<rect x="96.85" y="728.8" width="6.4" height="6.4"/>
<rect x="124.39999999999999" y="727.0" width="6.4" height="6.4"/>
<rect x="151.95000000000002" y="739.0999999999999" width="6.4" height="6.4"/>
<rect x="179.5" y="723.0" width="6.4" height="6.4"/>
<rect x="207.05" y="723.0" width="6.4" height="6.4"/>
<rect x="234.60000000000002" y="715.4" width="6.4" height="6.4"/>
<path d="M72.5 775L100.05 727.5L127.6 727.5L155.15 727.5L182.7 719.4L210.25 725.6L237.8 734.8" fill="none" stroke="#000" stroke-width="1.9" stroke-linejoin="round"/>
<path d="M72.5 771V779M68.9 771H76.1M68.9 779H76.1" fill="none" stroke="#000" stroke-width="1.5"/>
<path d="M100.05 722V733M96.45 722H103.64999999999999M96.45 733H103.64999999999999" fill="none" stroke="#000" stroke-width="1.5"/>
<path d="M127.6 723V732M124.0 723H131.2M124.0 732H131.2" fill="none" stroke="#000" stroke-width="1.5"/>
<path d="M155.15 722V733M151.55 722H158.75M151.55 733H158.75" fill="none" stroke="#000" stroke-width="1.5"/>
<path d="M182.7 713.5V725M179.1 713.5H186.29999999999998M179.1 725H186.29999999999998" fill="none" stroke="#000" stroke-width="1.5"/>
<path d="M210.25 720V731M206.65 720H213.85M206.65 731H213.85" fill="none" stroke="#000" stroke-width="1.5"/>
<path d="M237.8 727.5V742.5M234.20000000000002 727.5H241.4M234.20000000000002 742.5H241.4" fill="none" stroke="#000" stroke-width="1.5"/>
<path d="M72.5 771.06L76.14 777.94H68.86Z"/>
<path d="M100.05 723.56L103.69 730.44H96.41Z"/>
<path d="M127.6 723.56L131.24 730.44H123.96Z"/>
<path d="M155.15 723.56L158.79 730.44H151.51Z"/>
<path d="M182.7 715.46L186.34 722.34H179.06Z"/>
<path d="M210.25 721.66L213.89 728.54H206.61Z"/>
<path d="M237.8 730.86L241.44 737.74H234.16Z"/>
<text x="100.05" y="750.5" font-size="11" text-anchor="middle" letter-spacing="0.4">*</text>
<text x="127.6" y="748.0" font-size="11" text-anchor="middle" letter-spacing="0.4">***</text>
<text x="155.15" y="760.3" font-size="11" text-anchor="middle" letter-spacing="0.4">***</text>
<text x="182.7" y="741.5" font-size="11" text-anchor="middle" letter-spacing="0.4">***</text>
<text x="210.25" y="742.5" font-size="11" text-anchor="middle" letter-spacing="0.4">***</text>
<text x="236.8" y="715.5" font-size="11" text-anchor="middle" letter-spacing="0.4">***</text>
<text x="127.6" y="720" font-size="8.3" text-anchor="middle" fill="#222">##</text>
<text x="155.15" y="717.5" font-size="8.3" text-anchor="middle" fill="#222">###</text>
<text x="182.7" y="708.5" font-size="8.3" text-anchor="middle" fill="#222">###</text>
<text x="210.25" y="714" font-size="8.3" text-anchor="middle" fill="#222">###</text>
<text x="238.8" y="752.5" font-size="8.3" text-anchor="middle" fill="#222">###</text>
<line x1="262" y1="670.2" x2="278.4" y2="670.2" stroke="#000" stroke-width="1.8"/>
<circle cx="270.2" cy="670.2" r="3.2"/>
<text x="285" y="674.9" font-size="12.4">Tyrosinase<tspan font-size="7" dy="-4.8">+</tspan></text>
<line x1="262" y1="686.3" x2="278.4" y2="686.3" stroke="#000" stroke-width="1.8"/>
<rect x="266.9" y="683.0" width="6.6" height="6.6"/>
<text x="285" y="689.5" font-size="12.4">anti-4-1BB+-OX40</text>
<line x1="262" y1="701.6" x2="278.4" y2="701.6" stroke="#000" stroke-width="1.8"/>
<path d="M270.2 697.83L273.67 704.37H266.73Z"/>
<text x="285" y="704.3" font-size="12.4">anti-4-1BB</text>
<line x1="262" y1="716.0" x2="278.4" y2="716.0" stroke="#000" stroke-width="1.8"/>
<path d="M270.2 719.77L273.67 713.23H266.73Z"/>
<text x="285" y="718.7" font-size="12.4">anti-OX40</text>
</svg>
</body></html>
